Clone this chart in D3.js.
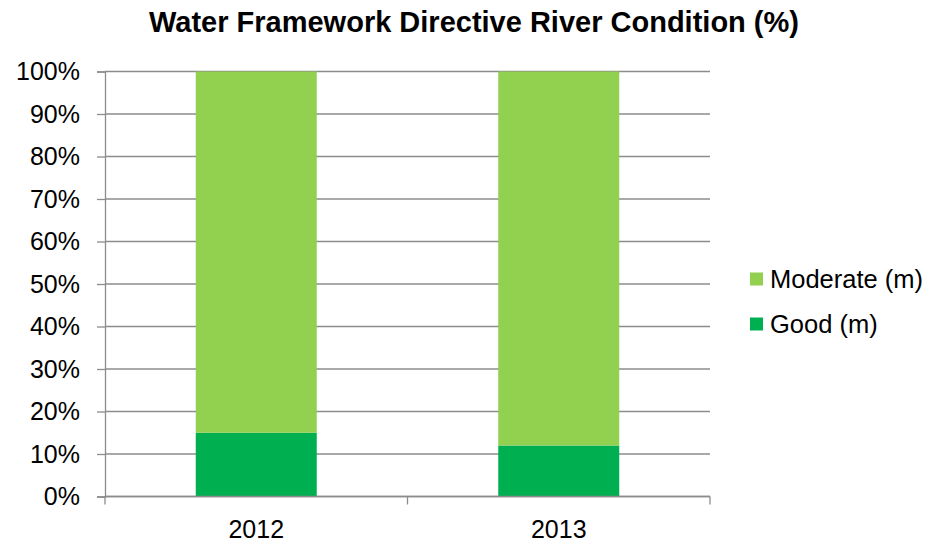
<!DOCTYPE html>
<html>
<head>
<meta charset="utf-8">
<script src="https://cdn.jsdelivr.net/npm/d3@7"></script>
<style>
  html, body { margin: 0; padding: 0; background: #fff; }
  svg { display: block; font-family: "Liberation Sans", Arial, sans-serif; }
</style>
</head>
<body>
<svg id="chart" width="933" height="544"></svg>
<script>
// River condition shares by year (percent)
const years = ["2012", "2013"];
const goodValues = [15, 12];
const moderateValues = [85, 88];
const seriesNames = ["Good (m)", "Moderate (m)"];
const seriesColors = ["#00B050", "#92D050"];
const yTicks = [0, 10, 20, 30, 40, 50, 60, 70, 80, 90, 100];

const svg = d3.select("#chart");
const margin = { left: 105, right: 223, top: 71.5, bottom: 47.5 };
const width = 933 - margin.left - margin.right;
const height = 544 - margin.top - margin.bottom;

const rows = years.map((y, i) => ({ year: y, good: goodValues[i], moderate: moderateValues[i] }));
const stack = d3.stack().keys(["good", "moderate"]);
const layers = stack(rows);

const x = d3.scaleBand().domain(years).range([0, width]).paddingInner(0.6).paddingOuter(0.3);
const y = d3.scaleLinear().domain([0, 100]).range([height, 0]);

const g = svg.append("g").attr("transform", `translate(${margin.left},${margin.top})`);

// Horizontal gridlines
g.append("g").selectAll("line").data(yTicks).join("line")
  .attr("x1", 0).attr("x2", width)
  .attr("y1", d => y(d)).attr("y2", d => y(d))
  .attr("stroke", "#8c8c8c").attr("stroke-width", 1.3);

// Stacked bars
g.append("g").selectAll("g").data(layers).join("g")
  .attr("fill", (d, i) => seriesColors[i])
  .selectAll("rect").data(d => d).join("rect")
  .attr("x", d => x(d.data.year))
  .attr("width", x.bandwidth())
  .attr("y", d => y(d[1]))
  .attr("height", d => y(d[0]) - y(d[1]));

// Y axis
const yAxis = g.append("g")
  .call(d3.axisLeft(y).tickValues(yTicks).tickFormat(d => d + "%").tickSize(8).tickPadding(17));
yAxis.select(".domain").attr("stroke", "#8c8c8c").attr("stroke-width", 1.3);
yAxis.selectAll(".tick line").attr("stroke", "#8c8c8c").attr("stroke-width", 1.3);
yAxis.selectAll(".tick text").attr("font-size", 25).attr("fill", "#000")
  .attr("font-family", "Liberation Sans, Arial, sans-serif");

// X axis with boundary ticks between categories
const xAxis = g.append("g").attr("transform", `translate(0,${height})`);
xAxis.append("line").attr("x1", 0).attr("x2", width)
  .attr("stroke", "#8c8c8c").attr("stroke-width", 1.3);
const step = width / years.length;
xAxis.selectAll("line.tk").data(d3.range(years.length + 1)).join("line")
  .attr("class", "tk")
  .attr("x1", d => d * step).attr("x2", d => d * step)
  .attr("y1", 0).attr("y2", 8)
  .attr("stroke", "#8c8c8c").attr("stroke-width", 1.3);
xAxis.selectAll("text").data(years).join("text")
  .attr("x", d => x(d) + x.bandwidth() / 2)
  .attr("y", 41)
  .attr("text-anchor", "middle")
  .attr("font-size", 25)
  .attr("fill", "#000")
  .text(d => d);

// Title
svg.append("text")
  .attr("x", 474).attr("y", 32)
  .attr("text-anchor", "middle")
  .attr("font-size", 29).attr("font-weight", "bold")
  .text("Water Framework Directive River Condition (%)");

// Legend (top series listed first)
const legendItems = [
  { name: seriesNames[1], color: seriesColors[1] },
  { name: seriesNames[0], color: seriesColors[0] }
];
const legend = svg.append("g").attr("transform", "translate(750,272.5)");
const li = legend.selectAll("g").data(legendItems).join("g")
  .attr("transform", (d, i) => `translate(0,${i * 45})`);
li.append("rect").attr("x", 0).attr("y", 0).attr("width", 13).attr("height", 13)
  .attr("fill", d => d.color);
li.append("text").attr("x", 20).attr("y", 15.5)
  .attr("font-size", 25.5).attr("fill", "#000")
  .text(d => d.name);
</script>
</body>
</html>
